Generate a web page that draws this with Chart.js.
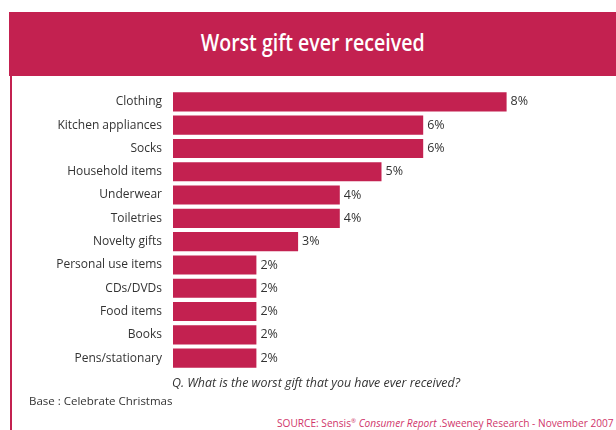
<!DOCTYPE html>
<html>
<head>
<meta charset="utf-8">
<script src="https://cdn.jsdelivr.net/npm/chart.js@4"></script>
<style>
  body { margin: 0; background: #fff; font-family: "Open Sans", sans-serif; color: #333; }
  #page { position: relative; width: 616px; height: 430px; overflow: hidden; }
  #band { position: absolute; left: 9px; top: 12px; width: 607px; height: 64px; background: #c32150; text-align: center; }
  #band h1 { display: inline-block; margin: 0; color: #fff; font-family: "Open Sans", sans-serif;
             font-weight: 600; font-size: 23px; line-height: 60px; transform: scaleX(0.85); }
  #edge { position: absolute; left: 10px; top: 76px; width: 2px; height: 354px; background: #c32150; }
  #gifts { position: absolute; left: 0; top: 72px; }
  .note { position: absolute; font-size: 12px; white-space: nowrap; }
  #question { left: 172px; top: 374px; font-style: italic; font-size: 12.4px; }
  #base { left: 29px; top: 393px; font-size: 11.5px; }
  #source { left: 277px; top: 416px; font-size: 10.15px; color: #d0356a; }
</style>
</head>
<body>
<div id="page">
  <div id="band"><h1>Worst gift ever received</h1></div>
  <div id="edge"></div>
  <canvas id="gifts" width="616" height="316"></canvas>
  <div class="note" id="question">Q. What is the worst gift that you have ever received?</div>
  <div class="note" id="base">Base : Celebrate Christmas</div>
  <div class="note" id="source">SOURCE: Sensis<sup style="font-size:6px">®</sup> <i>Consumer Report</i> .Sweeney Research - November 2007</div>
</div>
<script>
// categories et pourcentages
const categories = ['Clothing', 'Kitchen appliances', 'Socks', 'Household items', 'Underwear', 'Toiletries',
  'Novelty gifts', 'Personal use items', 'CDs/DVDs', 'Food items', 'Books', 'Pens/stationary'];
const percents = [8, 6, 6, 5, 4, 4, 3, 2, 2, 2, 2, 2];

// écrit la valeur au bout de chaque barre
const valueLabels = {
  id: 'valueLabels',
  afterDatasetsDraw(chart) {
    const ctx = chart.ctx;
    ctx.save();
    ctx.font = '12.5px "Open Sans", sans-serif';
    ctx.fillStyle = '#333';
    ctx.textBaseline = 'middle';
    chart.getDatasetMeta(0).data.forEach((bar, i) => {
      ctx.fillText(percents[i] + '%', bar.x + 4, bar.y);
    });
    ctx.restore();
  }
};

new Chart(document.getElementById('gifts'), {
  type: 'bar',
  data: {
    labels: categories,
    datasets: [{
      data: percents,
      backgroundColor: '#c32150',
      barPercentage: 0.82,
      categoryPercentage: 1
    }]
  },
  options: {
    indexAxis: 'y',
    responsive: false,
    animation: false,
    layout: { padding: { left: 0, right: 26, top: 0, bottom: 0 } },
    plugins: { legend: { display: false }, tooltip: { enabled: false } },
    scales: {
      x: { display: false, min: 0, max: 10 },
      y: {
        afterFit(scale) { scale.width = 173; },
        grid: { display: false, drawTicks: false },
        border: { display: false },
        ticks: { padding: 11, color: '#333', font: { family: '"Open Sans", sans-serif', size: 12 } }
      }
    }
  },
  plugins: [valueLabels]
});
</script>
</body>
</html>
